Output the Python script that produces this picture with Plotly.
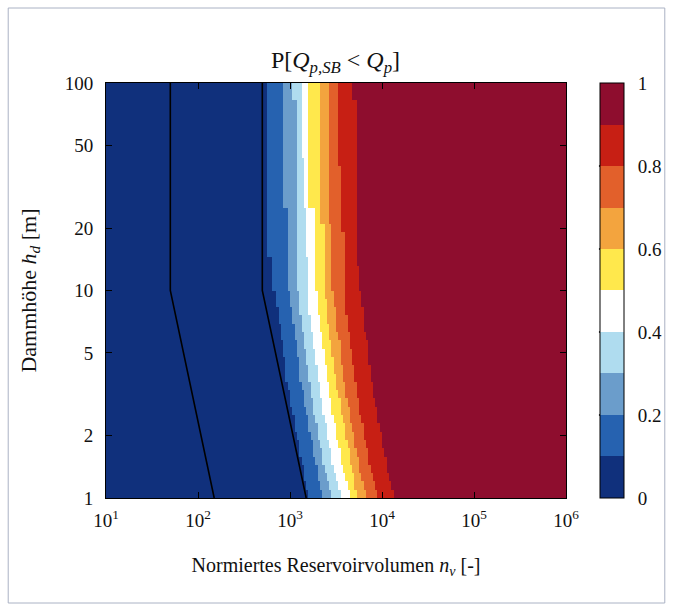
import numpy as np
import plotly.graph_objects as go

# ---------------- data ----------------
# probability classes of the colour scale (class boundaries)
levels = [0.1, 0.2, 0.3, 0.4, 0.5, 0.6, 0.7, 0.8, 0.9]

# log10(n_v) where P first reaches each class boundary, one value per
# grid row of h_d (row 0 = h_d 1 m ... row 49 = h_d 100 m)
edge_p10 = [3.20, 3.18, 3.16, 3.14, 3.12, 3.11, 3.09, 3.07, 3.06, 3.04,
            3.02, 3.01, 2.99, 2.98, 2.96, 2.95, 2.94, 2.93, 2.92, 2.90,
            2.89, 2.88, 2.87, 2.86, 2.85, 2.80, 2.80, 2.80, 2.80, 2.76,
            2.76, 2.76, 2.76, 2.76, 2.76, 2.76, 2.76, 2.76, 2.76, 2.76,
            2.76, 2.76, 2.76, 2.76, 2.76, 2.76, 2.76, 2.76, 2.76, 2.76]
edge_p20 = [3.35, 3.33, 3.31, 3.29, 3.27, 3.26, 3.24, 3.22, 3.21, 3.19,
            3.17, 3.16, 3.14, 3.13, 3.11, 3.10, 3.09, 3.08, 3.07, 3.05,
            3.04, 3.03, 3.02, 3.01, 3.00, 2.97, 2.97, 2.97, 2.97, 2.97,
            2.97, 2.97, 2.97, 2.97, 2.97, 2.92, 2.92, 2.92, 2.92, 2.92,
            2.92, 2.92, 2.92, 2.92, 2.92, 2.92, 2.92, 2.92, 2.92, 2.92]
edge_p30 = [3.44, 3.42, 3.40, 3.38, 3.36, 3.35, 3.33, 3.31, 3.30, 3.28,
            3.26, 3.25, 3.23, 3.22, 3.20, 3.19, 3.18, 3.17, 3.16, 3.14,
            3.13, 3.12, 3.11, 3.10, 3.09, 3.07, 3.07, 3.07, 3.07, 3.07,
            3.07, 3.07, 3.07, 3.07, 3.07, 3.07, 3.07, 3.07, 3.07, 3.07,
            3.07, 3.07, 3.07, 3.07, 3.07, 3.07, 3.07, 3.07, 3.02, 3.02]
edge_p40 = [3.54, 3.52, 3.50, 3.48, 3.46, 3.45, 3.43, 3.41, 3.40, 3.38,
            3.36, 3.35, 3.33, 3.32, 3.30, 3.29, 3.28, 3.27, 3.26, 3.24,
            3.23, 3.22, 3.21, 3.20, 3.19, 3.19, 3.19, 3.19, 3.19, 3.18,
            3.18, 3.18, 3.18, 3.18, 3.18, 3.16, 3.16, 3.16, 3.16, 3.16,
            3.16, 3.13, 3.13, 3.13, 3.13, 3.13, 3.13, 3.13, 3.13, 3.13]
edge_p50 = [3.64, 3.62, 3.60, 3.58, 3.56, 3.55, 3.53, 3.51, 3.50, 3.48,
            3.46, 3.45, 3.43, 3.42, 3.40, 3.39, 3.38, 3.37, 3.36, 3.34,
            3.33, 3.32, 3.31, 3.30, 3.29, 3.27, 3.27, 3.27, 3.27, 3.27,
            3.27, 3.27, 3.27, 3.27, 3.27, 3.21, 3.21, 3.21, 3.21, 3.21,
            3.21, 3.21, 3.21, 3.21, 3.21, 3.21, 3.21, 3.21, 3.21, 3.21]
edge_p60 = [3.73, 3.71, 3.69, 3.67, 3.65, 3.64, 3.62, 3.60, 3.59, 3.57,
            3.55, 3.54, 3.52, 3.51, 3.49, 3.48, 3.47, 3.46, 3.45, 3.43,
            3.42, 3.41, 3.40, 3.39, 3.38, 3.38, 3.38, 3.38, 3.38, 3.38,
            3.38, 3.38, 3.38, 3.32, 3.32, 3.32, 3.32, 3.32, 3.32, 3.32,
            3.32, 3.32, 3.32, 3.32, 3.32, 3.32, 3.32, 3.32, 3.32, 3.32]
edge_p70 = [3.82, 3.80, 3.78, 3.76, 3.74, 3.73, 3.71, 3.69, 3.68, 3.66,
            3.64, 3.63, 3.61, 3.60, 3.58, 3.57, 3.56, 3.55, 3.54, 3.52,
            3.51, 3.50, 3.49, 3.48, 3.47, 3.46, 3.46, 3.46, 3.46, 3.46,
            3.46, 3.46, 3.46, 3.42, 3.42, 3.42, 3.42, 3.42, 3.42, 3.42,
            3.42, 3.42, 3.42, 3.42, 3.42, 3.42, 3.42, 3.42, 3.42, 3.42]
edge_p80 = [3.94, 3.92, 3.90, 3.88, 3.86, 3.85, 3.83, 3.81, 3.80, 3.78,
            3.76, 3.75, 3.73, 3.72, 3.70, 3.69, 3.68, 3.67, 3.66, 3.64,
            3.63, 3.62, 3.61, 3.60, 3.59, 3.59, 3.59, 3.59, 3.59, 3.59,
            3.59, 3.59, 3.56, 3.56, 3.56, 3.56, 3.56, 3.56, 3.56, 3.56,
            3.52, 3.52, 3.52, 3.52, 3.52, 3.52, 3.52, 3.52, 3.52, 3.52]
edge_p90 = [4.12, 4.10, 4.08, 4.06, 4.04, 4.03, 4.01, 3.99, 3.98, 3.96,
            3.94, 3.93, 3.91, 3.90, 3.88, 3.87, 3.86, 3.85, 3.84, 3.82,
            3.81, 3.80, 3.79, 3.78, 3.77, 3.75, 3.75, 3.75, 3.72, 3.72,
            3.72, 3.72, 3.72, 3.72, 3.72, 3.72, 3.72, 3.72, 3.72, 3.72,
            3.72, 3.72, 3.72, 3.72, 3.72, 3.72, 3.72, 3.72, 3.68, 3.68]

# black reference lines (n_v, h_d)
line_h = [100, 10, 1]
line1_n = [50, 50, 150]
line2_n = [500, 500, 1500]

# axis ticks
x_tickvals = [1e1, 1e2, 1e3, 1e4, 1e5, 1e6]
x_ticktext = ["10<sup>1</sup>", "10<sup>2</sup>", "10<sup>3</sup>",
              "10<sup>4</sup>", "10<sup>5</sup>", "10<sup>6</sup>"]
y_tickvals = [1, 2, 5, 10, 20, 50, 100]
y_ticktext = ["1", "2", "5", "10", "20", "50", "100"]
cb_tickvals = [0, 0.2, 0.4, 0.6, 0.8, 1]
cb_ticktext = ["0", "0.2", "0.4", "0.6", "0.8", "1"]

class_colors = ["#10307c", "#2662b0", "#6b9dcb", "#afdcef", "#ffffff",
                "#ffe84c", "#f3a43e", "#e2602b", "#c71f14", "#8e0d2e"]

# ---------------- grid ----------------
nx, ny = 200, 50
x_log_edges = np.linspace(1, 6, nx + 1)
y_log_edges = np.linspace(0, 2, ny + 1)
x_edges = 10 ** x_log_edges
y_edges = 10 ** y_log_edges
x_centers = 0.5 * (x_log_edges[:-1] + x_log_edges[1:])

edges = np.array([edge_p10, edge_p20, edge_p30, edge_p40, edge_p50,
                  edge_p60, edge_p70, edge_p80, edge_p90])  # (9, 50)
z = np.zeros((ny, nx))
for j in range(ny):
    cnt = (x_centers[None, :] >= edges[:, j][:, None]).sum(axis=0)
    z[j] = 0.05 + 0.1 * cnt

colorscale = []
for k, c in enumerate(class_colors):
    colorscale.append([k / 10, c])
    colorscale.append([(k + 1) / 10, c])

# ---------------- figure ----------------
W, H = 674, 611
L, R, T, B = 106, 567, 83, 498
pw, ph = R - L, B - T
serif = "Liberation Serif"
txt = "#111111"

def px_x(x):
    return (x - L) / pw

def px_y(y):
    return (B - y) / ph

cb_x0 = px_x(600)
cb_x1 = px_x(624)

fig = go.Figure()
fig.add_trace(go.Heatmap(
    x=x_edges, y=y_edges, z=z, zmin=0, zmax=1,
    colorscale=colorscale, hoverinfo="skip",
    colorbar=dict(
        thickness=24, thicknessmode="pixels",
        len=1, lenmode="fraction",
        x=cb_x0, xanchor="left", xpad=0,
        y=0.5, yanchor="middle", ypad=0,
        outlinecolor="black", outlinewidth=1,
        tickvals=cb_tickvals, ticktext=cb_ticktext,
        ticks="outside", ticklen=10, tickcolor="rgba(0,0,0,0)",
        tickfont=dict(family=serif, size=19, color=txt),
    ),
))
fig.add_trace(go.Scatter(x=line1_n, y=line_h, mode="lines",
                         line=dict(color="black", width=1.6),
                         showlegend=False, hoverinfo="skip"))
fig.add_trace(go.Scatter(x=line2_n, y=line_h, mode="lines",
                         line=dict(color="black", width=1.6),
                         showlegend=False, hoverinfo="skip"))

shapes = []
# colourbar inner tick marks at both edges
for v in [0.2, 0.4, 0.6, 0.8]:
    for (a, b) in [(cb_x0, cb_x0 + 6 / pw), (cb_x1 - 6 / pw, cb_x1)]:
        shapes.append(dict(type="line", xref="paper", yref="paper",
                           x0=a, x1=b, y0=v, y1=v,
                           line=dict(color="black", width=1.5)))
# outer frame
shapes.append(dict(type="rect", xref="paper", yref="paper",
                   x0=px_x(8), x1=px_x(666), y0=px_y(603), y1=px_y(8),
                   line=dict(color="#aab2c4", width=1)))

axis_common = dict(
    showgrid=False, zeroline=False, showline=True, linecolor="black",
    linewidth=1, mirror="ticks", ticks="inside", ticklen=6,
    tickcolor="black", tickwidth=1.2,
    tickfont=dict(family=serif, size=19, color=txt),
)

fig.update_layout(
    width=W, height=H,
    margin=dict(l=L, r=W - R, t=T, b=H - B, pad=0),
    paper_bgcolor="white", plot_bgcolor="white",
    showlegend=False,
    title=dict(
        text="P[<i>Q</i><sub><i>p,SB</i></sub> &lt; <i>Q</i><sub><i>p</i></sub>]",
        font=dict(family=serif, size=24, color=txt),
        x=px_x(336), xref="paper", xanchor="center",
        y=1 - 60 / H, yref="container", yanchor="middle",
    ),
    xaxis=dict(type="log", range=[1, 6], tickvals=x_tickvals,
               ticktext=x_ticktext, ticklabelstandoff=5,
               title=dict(text="Normiertes Reservoirvolumen <i>n<sub>v</sub></i> [-]",
                          font=dict(family=serif, size=20, color=txt),
                          standoff=28),
               **axis_common),
    yaxis=dict(type="log", range=[0, 2], tickvals=y_tickvals,
               ticktext=y_ticktext, ticklabelstandoff=8,
               title=dict(text="Dammhöhe <i>h<sub>d</sub></i> [m]",
                          font=dict(family=serif, size=22, color=txt),
                          standoff=22),
               **axis_common),
    shapes=shapes,
)

fig.write_html("out.html", config={"displayModeBar": False},
               post_script="document.body.style.margin='0px';document.body.style.overflow='hidden';")
